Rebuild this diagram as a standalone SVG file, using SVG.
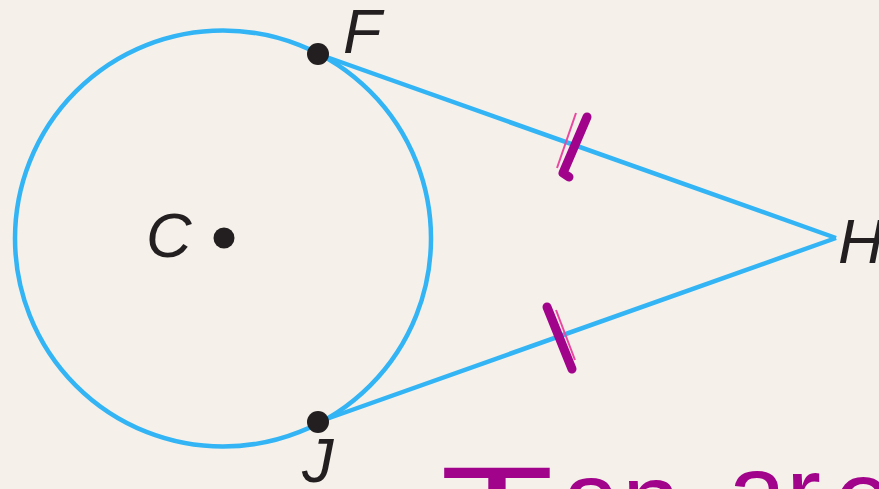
<svg xmlns="http://www.w3.org/2000/svg" width="879" height="489" viewBox="0 0 879 489">
<style>
.geo{fill:none;stroke:#33b4f4;stroke-width:4.5}
.dot{fill:#231f20}
.lbl{font-family:"Liberation Sans",Arial,sans-serif;font-style:italic;font-size:63px;fill:#231f20}
.tick{fill:none;stroke:#a2038b;stroke-width:9;stroke-linecap:round;stroke-linejoin:round}
.tickthin{fill:none;stroke:#e8489f;stroke-width:2}
.hand{font-family:"Liberation Sans",Arial,sans-serif;fill:#a2038b}
</style>
<rect width="879" height="489" fill="#f5f1ea"/>
<g id="circle"><circle class="geo" cx="223" cy="238.5" r="208"/></g>
<g id="connectors">
<line class="geo" x1="318" y1="54" x2="836" y2="238"/>
<line class="geo" x1="318" y1="422" x2="836" y2="238"/>
</g>
<g id="F"><circle class="dot" cx="318" cy="54" r="11"/><text class="lbl" x="343" y="53">F</text></g>
<g id="J"><circle class="dot" cx="318" cy="422" r="11"/><text class="lbl" x="302" y="482">J</text></g>
<g id="C"><circle class="dot" cx="224" cy="238" r="10.5"/><text class="lbl" x="146" y="257">C</text></g>
<g id="H"><text class="lbl" x="838" y="263">H</text></g>
<g id="ticks">
<line class="tickthin" x1="576" y1="113" x2="557" y2="168"/>
<path class="tick" d="M587 117 L563 173 L569 177"/>
<line class="tickthin" x1="556" y1="310" x2="575" y2="360"/>
<path class="tick" d="M547 307 L572 369"/>
</g>
<g id="note"><text class="hand"><tspan x="440" y="561" font-size="136" textLength="114" lengthAdjust="spacingAndGlyphs">T</tspan><tspan x="562" y="535" font-size="105">a</tspan><tspan x="622" y="537" font-size="105">n</tspan><tspan x="728" y="528" font-size="105">a</tspan><tspan x="786" y="530" font-size="105">r</tspan><tspan x="834" y="534" font-size="105">e</tspan></text></g>
</svg>
